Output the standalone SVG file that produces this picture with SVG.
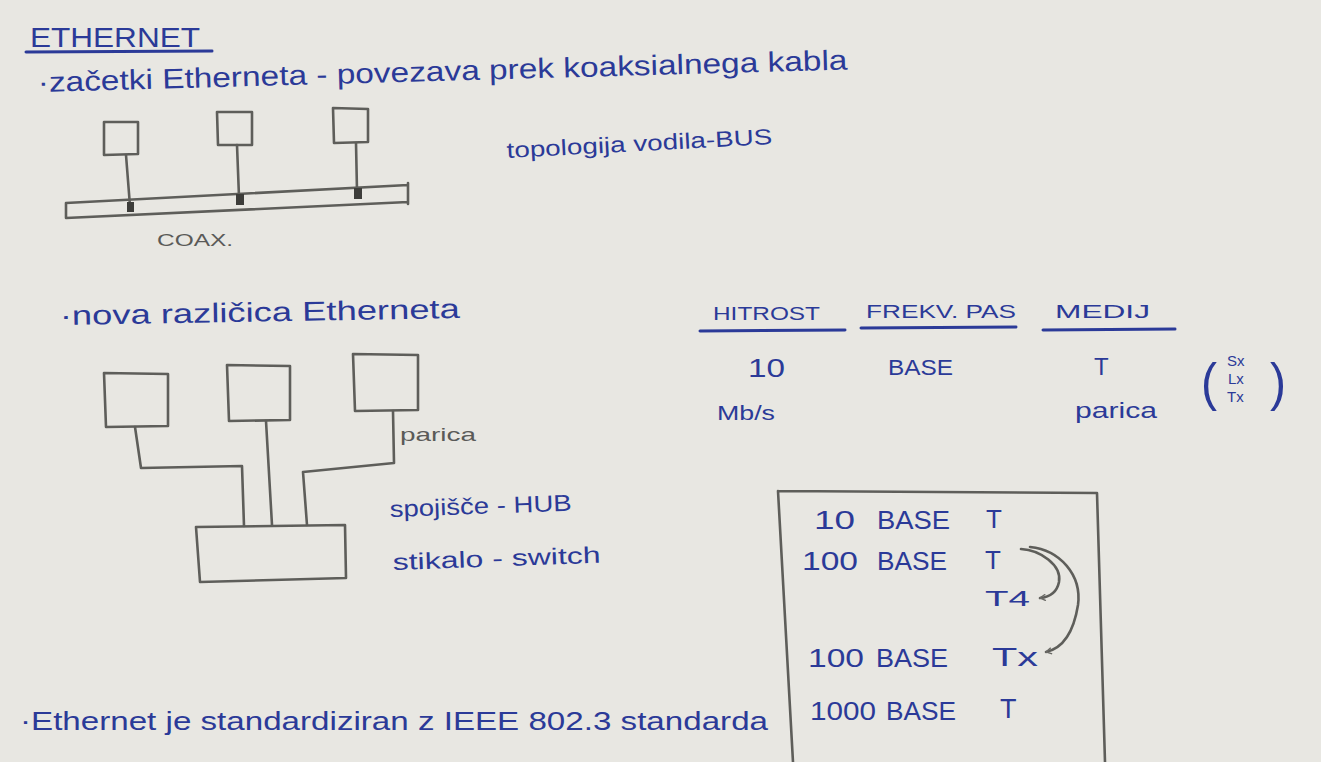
<svg xmlns="http://www.w3.org/2000/svg" width="1321" height="762" viewBox="0 0 1321 762">
  <defs>
    <style>
      .ink { fill: #2b3a98; font-family: "Liberation Sans", "DejaVu Sans", sans-serif; }
      .grey { fill: #5a5a58; font-family: "Liberation Sans", "DejaVu Sans", sans-serif; }
      .pen { fill: none; stroke: #5e5e5a; stroke-width: 2.6; stroke-linejoin: round; stroke-linecap: round; }
      .rule { fill: none; stroke: #2b3a98; stroke-width: 3; stroke-linecap: round; }
      .tap { fill: #3d3d3a; }
    </style>
    <marker id="head" viewBox="0 0 10 10" refX="9" refY="5" markerWidth="8" markerHeight="8" orient="auto" markerUnits="userSpaceOnUse">
      <path d="M2,1 L9,5 L2,9" fill="none" stroke="#6a6a66" stroke-width="1.8"/>
    </marker>
  </defs>

  <rect width="1321" height="762" fill="#e8e7e2"/>

  <!-- heading -->
  <g id="title">
    <text class="ink" x="30" y="47" font-size="28" textLength="170" lengthAdjust="spacingAndGlyphs">ETHERNET</text>
    <path class="rule" d="M26,52 L212,51"/>
  </g>

  <g id="bullet-coax">
    <text class="ink" x="38" y="92" font-size="28" textLength="810" lengthAdjust="spacingAndGlyphs" transform="rotate(-1.6 40 92)">·začetki Etherneta - povezava prek koaksialnega kabla</text>
  </g>

  <!-- bus topology over coax -->
  <g id="bus-diagram">
    <path class="pen" d="M104,122 L138,122 L138,154 L104,155 Z"/>
    <path class="pen" d="M217,112 L252,112 L252,145 L218,145 Z"/>
    <path class="pen" d="M333,108 L368,109 L368,142 L334,143 Z"/>
    <path class="pen" d="M126,155 L130,206"/>
    <path class="pen" d="M237,145 L239,197"/>
    <path class="pen" d="M356,143 L357,191"/>
    <path class="pen" d="M66,203 L408,185 M66,218 L408,202 M66,203 L66,218 M408,183 L408,204"/>
    <rect class="tap" x="127" y="202" width="7" height="10"/>
    <rect class="tap" x="236" y="194" width="8" height="11"/>
    <rect class="tap" x="354" y="188" width="8" height="11"/>
    <text class="grey" x="157" y="246" font-size="16" textLength="76" lengthAdjust="spacingAndGlyphs">COAX.</text>
  </g>

  <g id="bus-label">
    <text class="ink" x="507" y="158" font-size="22" textLength="266" lengthAdjust="spacingAndGlyphs" transform="rotate(-3 507 158)">topologija vodila-BUS</text>
  </g>

  <g id="bullet-new">
    <text class="ink" x="60" y="325" font-size="27" textLength="400" lengthAdjust="spacingAndGlyphs" transform="rotate(-1 60 325)">·nova različica Etherneta</text>
  </g>

  <!-- star topology with hub/switch -->
  <g id="star-diagram">
    <path class="pen" d="M104,373 L168,374 L168,426 L106,427 Z"/>
    <path class="pen" d="M227,365 L290,366 L290,420 L229,421 Z"/>
    <path class="pen" d="M353,354 L418,355 L418,410 L355,411 Z"/>
    <path class="pen" d="M196,527 L345,525 L346,578 L200,582 Z"/>
    <path class="pen" d="M135,427 L141,468 L242,466 L244,526"/>
    <path class="pen" d="M266,421 L272,525"/>
    <path class="pen" d="M393,411 L394,463 L303,472 L307,525"/>
    <text class="grey" x="400" y="441" font-size="19" textLength="76" lengthAdjust="spacingAndGlyphs">parica</text>
  </g>

  <g id="hub-label">
    <text class="ink" x="390" y="517" font-size="23" textLength="182" lengthAdjust="spacingAndGlyphs" transform="rotate(-2 390 517)">spojišče - HUB</text>
    <text class="ink" x="393" y="570" font-size="23" textLength="208" lengthAdjust="spacingAndGlyphs" transform="rotate(-2 393 570)">stikalo - switch</text>
  </g>

  <!-- naming scheme table -->
  <g id="naming-table">
    <text class="ink" x="713" y="320" font-size="19" textLength="107" lengthAdjust="spacingAndGlyphs">HITROST</text>
    <text class="ink" x="866" y="318" font-size="19" textLength="150" lengthAdjust="spacingAndGlyphs">FREKV. PAS</text>
    <text class="ink" x="1055" y="318" font-size="19" textLength="95" lengthAdjust="spacingAndGlyphs">MEDIJ</text>
    <path class="rule" d="M700,331 L845,330"/>
    <path class="rule" d="M861,328 L1016,327"/>
    <path class="rule" d="M1043,330 L1175,329"/>
    <text class="ink" x="748" y="377" font-size="25" textLength="37" lengthAdjust="spacingAndGlyphs">10</text>
    <text class="ink" x="888" y="375" font-size="22" textLength="65" lengthAdjust="spacingAndGlyphs">BASE</text>
    <text class="ink" x="1094" y="375" font-size="24">T</text>
    <text class="ink" x="717" y="420" font-size="21" textLength="58" lengthAdjust="spacingAndGlyphs">Mb/s</text>
    <text class="ink" x="1075" y="418" font-size="22" textLength="82" lengthAdjust="spacingAndGlyphs">parica</text>
    <text class="ink" x="1201" y="400" font-size="52" textLength="16" lengthAdjust="spacingAndGlyphs">(</text>
    <text class="ink" x="1227" y="366" font-size="15">Sx</text>
    <text class="ink" x="1228" y="384" font-size="15">Lx</text>
    <text class="ink" x="1227" y="402" font-size="15">Tx</text>
    <text class="ink" x="1270" y="400" font-size="52" textLength="16" lengthAdjust="spacingAndGlyphs">)</text>
  </g>

  <!-- list of standards -->
  <g id="standards-box">
    <path class="pen" d="M778,491 L1097,493 L1105,762 M778,491 L793,762"/>
    <text class="ink" x="814" y="529" font-size="26" textLength="41" lengthAdjust="spacingAndGlyphs">10</text>
    <text class="ink" x="877" y="529" font-size="26" textLength="73" lengthAdjust="spacingAndGlyphs">BASE</text>
    <text class="ink" x="986" y="528" font-size="26">T</text>
    <text class="ink" x="802" y="570" font-size="26" textLength="56" lengthAdjust="spacingAndGlyphs">100</text>
    <text class="ink" x="877" y="570" font-size="26" textLength="70" lengthAdjust="spacingAndGlyphs">BASE</text>
    <text class="ink" x="985" y="569" font-size="26">T</text>
    <text class="ink" x="985" y="606" font-size="22" textLength="45" lengthAdjust="spacingAndGlyphs">T4</text>
    <text class="ink" x="808" y="667" font-size="26" textLength="56" lengthAdjust="spacingAndGlyphs">100</text>
    <text class="ink" x="876" y="667" font-size="26" textLength="72" lengthAdjust="spacingAndGlyphs">BASE</text>
    <text class="ink" x="992" y="666" font-size="25" textLength="46" lengthAdjust="spacingAndGlyphs">Tx</text>
    <text class="ink" x="810" y="720" font-size="26" textLength="66" lengthAdjust="spacingAndGlyphs">1000</text>
    <text class="ink" x="886" y="720" font-size="26" textLength="70" lengthAdjust="spacingAndGlyphs">BASE</text>
    <text class="ink" x="1000" y="718" font-size="27">T</text>
  </g>

  <g id="connectors">
    <path class="pen" d="M1021,549 C1040,550 1062,565 1059,582 C1057,592 1050,597 1040,598" marker-end="url(#head)" stroke-width="2"/>
    <path class="pen" d="M1030,547 C1060,550 1082,575 1078,605 C1074,630 1064,648 1046,652" marker-end="url(#head)" stroke-width="2"/>
  </g>

  <g id="bullet-ieee">
    <text class="ink" x="20" y="730" font-size="26" textLength="748" lengthAdjust="spacingAndGlyphs">·Ethernet je standardiziran z IEEE 802.3 standarda</text>
  </g>
</svg>
